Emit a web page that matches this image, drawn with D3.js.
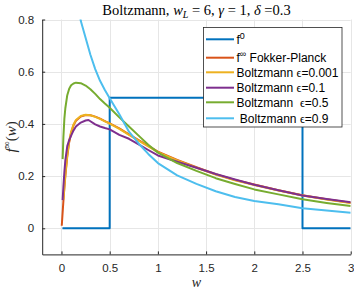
<!DOCTYPE html>
<html>
<head>
<meta charset="utf-8">
<script src="https://cdn.jsdelivr.net/npm/d3@7"></script>
<style>
  body { margin: 0; background: #fff; }
  svg { display: block; font-family: "Liberation Sans", Arial, sans-serif; }
</style>
</head>
<body>
<script>
// f0 initial step
var stepW = [0.01, 0.5, 0.5, 2.5, 2.5, 3.0];
var stepF = [0, 0, 0.5, 0.5, 0, 0];

// Fokker-Planck steady state
var fpW = [0.003, 0.01, 0.02, 0.03, 0.04, 0.06, 0.08, 0.1, 0.125, 0.15, 0.2, 0.25, 0.3, 0.35, 0.4, 0.45, 0.5, 0.6, 0.7, 0.8, 0.9, 1.0, 1.2, 1.4, 1.6, 1.8, 2.0, 2.25, 2.5, 2.75, 3.0];
var fpF = [0.01, 0.05, 0.105, 0.155, 0.20, 0.275, 0.33, 0.365, 0.395, 0.412, 0.428, 0.434, 0.433, 0.428, 0.42, 0.411, 0.402, 0.383, 0.360, 0.338, 0.316, 0.294, 0.262, 0.234, 0.207, 0.185, 0.168, 0.146, 0.127, 0.111, 0.098];

// Boltzmann eps = 0.001
var b1W = [0.02, 0.03, 0.04, 0.06, 0.08, 0.1, 0.125, 0.15, 0.2, 0.25, 0.3, 0.35, 0.4, 0.45, 0.5, 0.6, 0.7, 0.8, 0.9, 1.0, 1.2, 1.4, 1.6, 1.8, 2.0, 2.25, 2.5, 2.75, 3.0];
var b1F = [0.11, 0.16, 0.205, 0.28, 0.335, 0.37, 0.398, 0.415, 0.43, 0.435, 0.433, 0.427, 0.419, 0.41, 0.401, 0.381, 0.358, 0.336, 0.314, 0.292, 0.26, 0.232, 0.206, 0.184, 0.166, 0.145, 0.126, 0.11, 0.097];

// Boltzmann eps = 0.1
var b2W = [0.012, 0.02, 0.03, 0.04, 0.06, 0.08, 0.1, 0.125, 0.15, 0.2, 0.25, 0.28, 0.3, 0.35, 0.4, 0.45, 0.5, 0.6, 0.7, 0.8, 0.9, 1.0, 1.2, 1.4, 1.6, 1.8, 2.0, 2.25, 2.5, 2.75, 3.0];
var b2F = [0.108, 0.16, 0.215, 0.26, 0.315, 0.338, 0.355, 0.375, 0.39, 0.405, 0.413, 0.415, 0.41, 0.398, 0.39, 0.384, 0.379, 0.358, 0.343, 0.322, 0.3, 0.279, 0.255, 0.232, 0.208, 0.187, 0.167, 0.146, 0.126, 0.112, 0.100];

// Boltzmann eps = 0.5
var b3W = [0.012, 0.02, 0.03, 0.04, 0.06, 0.08, 0.1, 0.125, 0.15, 0.2, 0.25, 0.3, 0.35, 0.4, 0.45, 0.5, 0.6, 0.7, 0.8, 0.9, 1.0, 1.2, 1.4, 1.6, 1.8, 2.0, 2.25, 2.5, 2.75, 3.0];
var b3F = [0.265, 0.35, 0.42, 0.46, 0.51, 0.535, 0.548, 0.555, 0.558, 0.556, 0.547, 0.533, 0.515, 0.495, 0.478, 0.462, 0.425, 0.39, 0.355, 0.32, 0.29, 0.25, 0.22, 0.192, 0.17, 0.149, 0.13, 0.111, 0.097, 0.085];

// Boltzmann eps = 0.9
var b4W = [0.15, 0.2, 0.25, 0.3, 0.35, 0.4, 0.45, 0.5, 0.6, 0.7, 0.8, 0.9, 1.0, 1.2, 1.4, 1.6, 1.8, 2.0, 2.25, 2.5, 2.75, 3.0];
var b4F = [0.93, 0.795, 0.73, 0.665, 0.61, 0.565, 0.53, 0.498, 0.437, 0.37, 0.325, 0.285, 0.25, 0.203, 0.17, 0.142, 0.12, 0.105, 0.092, 0.077, 0.068, 0.060];

var xTicks = [0, 0.5, 1, 1.5, 2, 2.5, 3];
var yTicks = [0, 0.2, 0.4, 0.6, 0.8];

var series = [
  {w: stepW, f: stepF, color: "#0072BD"},
  {w: fpW, f: fpF, color: "#D95319"},
  {w: b1W, f: b1F, color: "#EDB120"},
  {w: b2W, f: b2F, color: "#7E2F8E"},
  {w: b3W, f: b3F, color: "#77AC30"},
  {w: b4W, f: b4F, color: "#4DBEEE"}
];

var width = 354, height = 291;
var pL = 42.2, pR = 350.7, pT = 19.5, pB = 254.4;

var x = d3.scaleLinear().domain([-0.2, 3]).range([pL, pR]);
var y = d3.scaleLinear().domain([-0.1, 0.8]).range([pB, pT]);

var svg = d3.select("body").append("svg")
    .attr("width", width)
    .attr("height", height);

svg.append("defs").append("clipPath").attr("id", "plotclip")
  .append("rect")
    .attr("x", pL).attr("y", pT)
    .attr("width", pR - pL).attr("height", pB - pT);

// grid
var grid = svg.append("g").attr("stroke", "#e6e6e6").attr("stroke-width", 1);
grid.selectAll("line.gx").data(xTicks).enter().append("line")
    .attr("x1", function(d){ return Math.round(x(d)) + 0.5; })
    .attr("x2", function(d){ return Math.round(x(d)) + 0.5; })
    .attr("y1", pT).attr("y2", pB);
grid.selectAll("line.gy").data(yTicks).enter().append("line")
    .attr("y1", function(d){ return Math.round(y(d)) + 0.5; })
    .attr("y2", function(d){ return Math.round(y(d)) + 0.5; })
    .attr("x1", pL).attr("x2", pR);

// curves
var line = d3.line()
    .x(function(d){ return x(d[0]); })
    .y(function(d){ return y(d[1]); });

var plot = svg.append("g").attr("clip-path", "url(#plotclip)");
series.forEach(function(s){
  var pts = s.w.map(function(w, i){ return [w, s.f[i]]; });
  plot.append("path")
      .attr("d", line(pts))
      .attr("fill", "none")
      .attr("stroke", s.color)
      .attr("stroke-width", 2)
      .attr("stroke-linejoin", "round");
});

// axes
var xAxis = svg.append("g")
    .attr("transform", "translate(0," + pB + ")")
    .call(d3.axisBottom(x).tickValues(xTicks).tickSizeInner(-3).tickSizeOuter(0)
      .tickPadding(9).tickFormat(d3.format("")));
var yAxis = svg.append("g")
    .attr("transform", "translate(" + pL + ",0)")
    .call(d3.axisLeft(y).tickValues(yTicks).tickSizeInner(-3).tickSizeOuter(0)
      .tickPadding(8).tickFormat(function(d){ return d === 0 ? "0" : d3.format(".1f")(d); }));

[xAxis, yAxis].forEach(function(a){
  a.select(".domain").attr("stroke", "#262626");
  a.selectAll(".tick line").attr("stroke", "#262626");
  a.selectAll(".tick text").attr("fill", "#262626")
    .style("font-size", "11.5px")
    .style("font-family", "'Liberation Sans', Arial, sans-serif");
});

// title
var title = svg.append("text")
    .attr("x", (pL + pR) / 2).attr("y", 15)
    .attr("text-anchor", "middle")
    .style("font-family", "'Liberation Serif', 'Times New Roman', serif")
    .style("font-size", "14.5px")
    .attr("fill", "#000");
title.append("tspan").text("Boltzmann, ");
title.append("tspan").style("font-style", "italic").text("w");
title.append("tspan").attr("dy", 2.5).style("font-size", "10px").style("font-style", "italic").text("L");
title.append("tspan").attr("dy", -2.5).text(" = 6, ");
title.append("tspan").style("font-style", "italic").text("γ");
title.append("tspan").text(" = 1, ");
title.append("tspan").style("font-style", "italic").text("δ");
title.append("tspan").text(" =0.3");

// x label
svg.append("text")
    .attr("x", (pL + pR) / 2).attr("y", 287)
    .attr("text-anchor", "middle")
    .style("font-family", "'Liberation Serif', 'Times New Roman', serif")
    .style("font-style", "italic")
    .style("font-size", "14px")
    .attr("fill", "#262626")
    .text("w");

// y label
var ylab = svg.append("text")
    .attr("transform", "translate(16," + ((pT + pB) / 2) + ") rotate(-90)")
    .attr("text-anchor", "middle")
    .style("font-family", "'Liberation Serif', 'Times New Roman', serif")
    .style("font-size", "15px")
    .attr("fill", "#262626");
ylab.append("tspan").style("font-style", "italic").text("f");
ylab.append("tspan").attr("dy", -6).style("font-size", "10px").text("∞");
ylab.append("tspan").attr("dy", 6).text("(");
ylab.append("tspan").style("font-style", "italic").text("w");
ylab.append("tspan").text(")");

// legend
var legRows = [
  {label: ["f", "0", ""], ly: 39.3},
  {label: ["f", "∞", " Fokker-Planck"], ly: 57.7},
  {label: ["Boltzmann ", "ϵ", "=0.001"], ly: 72.3, eps: true},
  {label: ["Boltzmann ", "ϵ", "=0.1"], ly: 87.7, eps: true},
  {label: ["Boltzmann  ", "ϵ", "=0.5"], ly: 102.3, eps: true},
  {label: [" Boltzmann ", "ϵ", "=0.9"], ly: 118.3, eps: true}
];

var leg = svg.append("g");
leg.append("rect")
    .attr("x", 203.5).attr("y", 27.5)
    .attr("width", 138.5).attr("height", 99.5)
    .attr("fill", "#fff")
    .attr("stroke", "#262626")
    .attr("stroke-width", 0.8);

legRows.forEach(function(r, i){
  leg.append("line")
      .attr("x1", 206).attr("x2", 234)
      .attr("y1", r.ly).attr("y2", r.ly)
      .attr("stroke", series[i].color)
      .attr("stroke-width", 2);
  var t = leg.append("text")
      .attr("x", 236.5).attr("y", r.ly + 4.5)
      .style("font-size", "12px")
      .style("white-space", "pre")
      .attr("fill", "#000");
  if (r.eps) {
    t.append("tspan").text(r.label[0]);
    t.append("tspan").style("font-family", "'Liberation Serif', serif").style("font-size", "12px").text(r.label[1]);
    t.append("tspan").text(r.label[2]);
  } else {
    t.append("tspan").text(r.label[0]);
    t.append("tspan").attr("dy", -5).style("font-size", "9px").text(r.label[1]);
    t.append("tspan").attr("dy", 5).text(r.label[2]);
  }
});
</script>
</body>
</html>
